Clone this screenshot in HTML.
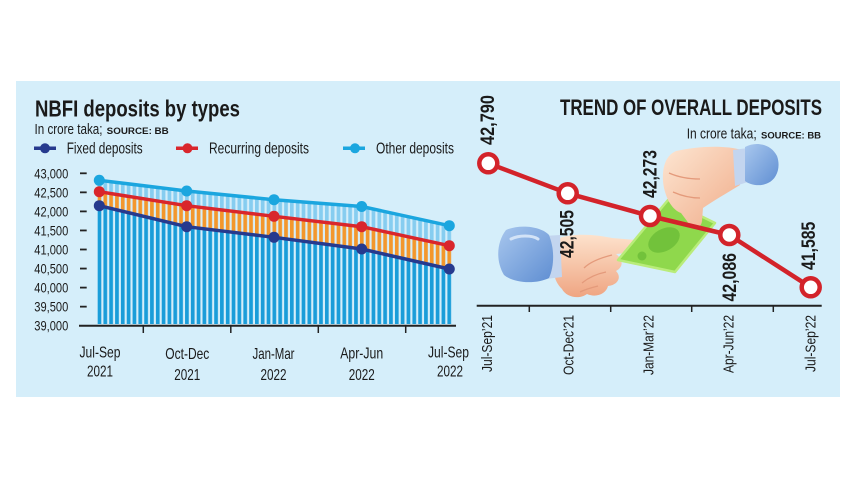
<!DOCTYPE html>
<html><head><meta charset="utf-8"><style>
html,body{margin:0;padding:0;background:#fff;}
svg{display:block;}
text{font-family:"Liberation Sans Narrow","Liberation Sans",sans-serif;fill:#1a1a1a;}
.b{font-weight:bold;}
</style></head><body>
<svg width="857" height="482" viewBox="0 0 857 482" xmlns="http://www.w3.org/2000/svg">
<defs>
<pattern id="pb" patternUnits="userSpaceOnUse" x="97.6" y="0" width="5.83" height="482"><rect x="0" y="0" width="3.7" height="482" fill="#1a9dd9"/></pattern>
<pattern id="po" patternUnits="userSpaceOnUse" x="97.6" y="0" width="5.83" height="482"><rect x="0" y="0" width="3.7" height="482" fill="#f3972c"/></pattern>
<pattern id="pl" patternUnits="userSpaceOnUse" x="97.6" y="0" width="5.83" height="482"><rect x="0" y="0" width="3.7" height="482" fill="#86cdf0"/></pattern>
<linearGradient id="skin" x1="0" y1="0" x2="0" y2="1"><stop offset="0" stop-color="#fde2cc"/><stop offset="1" stop-color="#efa582"/></linearGradient>
<linearGradient id="skin2" x1="0" y1="0" x2="1" y2="1"><stop offset="0" stop-color="#fde6d2"/><stop offset="1" stop-color="#f0ab88"/></linearGradient>
<linearGradient id="slv" x1="0" y1="0" x2="1" y2="1"><stop offset="0" stop-color="#a8c7ee"/><stop offset="1" stop-color="#5f8ed2"/></linearGradient>
</defs>
<rect x="0" y="0" width="857" height="482" fill="#ffffff"/>
<rect x="16" y="81" width="824" height="316" fill="#d5eefa"/>

<!-- LEFT CHART -->
<text class="b" x="35" y="116.7" font-size="23" textLength="205" lengthAdjust="spacingAndGlyphs">NBFI deposits by types</text>
<text x="34.5" y="134" font-size="14.5" textLength="68" lengthAdjust="spacingAndGlyphs">In crore taka;</text>
<text class="b" x="106.7" y="134" font-size="9.5" textLength="62" lengthAdjust="spacingAndGlyphs">SOURCE: BB</text>

<!-- legend -->
<line x1="34" y1="148.3" x2="56" y2="148.3" stroke="#263a8e" stroke-width="3.5"/>
<circle cx="45" cy="148.3" r="5" fill="#263a8e"/>
<text x="66.7" y="153.5" font-size="16" textLength="76" lengthAdjust="spacingAndGlyphs">Fixed deposits</text>
<line x1="176" y1="148.3" x2="198" y2="148.3" stroke="#d9262c" stroke-width="3.5"/>
<circle cx="187.5" cy="148.3" r="5" fill="#d9262c"/>
<text x="209" y="153.5" font-size="16" textLength="100" lengthAdjust="spacingAndGlyphs">Recurring deposits</text>
<line x1="343" y1="148.3" x2="365" y2="148.3" stroke="#1ba6df" stroke-width="3.5"/>
<circle cx="355" cy="148.3" r="5" fill="#1ba6df"/>
<text x="376" y="153.5" font-size="16" textLength="78" lengthAdjust="spacingAndGlyphs">Other deposits</text>

<!-- y labels -->
<g font-size="14.2" text-anchor="end">
<text x="68.3" y="178.3" textLength="34" lengthAdjust="spacingAndGlyphs">43,000</text>
<text x="68.3" y="197.4" textLength="34" lengthAdjust="spacingAndGlyphs">42,500</text>
<text x="68.3" y="216.4" textLength="34" lengthAdjust="spacingAndGlyphs">42,000</text>
<text x="68.3" y="235.5" textLength="34" lengthAdjust="spacingAndGlyphs">41,500</text>
<text x="68.3" y="254.5" textLength="34" lengthAdjust="spacingAndGlyphs">41,000</text>
<text x="68.3" y="273.6" textLength="34" lengthAdjust="spacingAndGlyphs">40,500</text>
<text x="68.3" y="292.6" textLength="34" lengthAdjust="spacingAndGlyphs">40,000</text>
<text x="68.3" y="311.7" textLength="34" lengthAdjust="spacingAndGlyphs">39,500</text>
<text x="68.3" y="330.7" textLength="34" lengthAdjust="spacingAndGlyphs">39,000</text>
</g>
<g stroke="#222" stroke-width="1.8">
<line x1="80" y1="173.3" x2="86.7" y2="173.3"/>
<line x1="80" y1="192.35" x2="86.7" y2="192.35"/>
<line x1="80" y1="211.4" x2="86.7" y2="211.4"/>
<line x1="80" y1="230.45" x2="86.7" y2="230.45"/>
<line x1="80" y1="249.5" x2="86.7" y2="249.5"/>
<line x1="80" y1="268.55" x2="86.7" y2="268.55"/>
<line x1="80" y1="287.6" x2="86.7" y2="287.6"/>
<line x1="80" y1="306.65" x2="86.7" y2="306.65"/>
</g>

<!-- striped areas -->
<polygon fill="url(#pb)" points="97.6,324 97.6,205.3 99.3,205.7 186.7,226.7 274,237.3 361.7,249 449.3,269 451.5,269.5 451.5,324"/>
<polygon fill="url(#po)" points="97.6,191.5 99.3,191.7 186.7,205.7 274,216.3 361.7,226.7 449.3,245.7 451.5,246.2 451.5,269.5 449.3,269 361.7,249 274,237.3 186.7,226.7 99.3,205.7 97.6,205.3"/>
<polygon fill="url(#pl)" points="97.6,180.1 99.3,180.3 186.7,191 274,199.7 361.7,206.5 449.3,225.7 451.5,226.2 451.5,246.2 449.3,245.7 361.7,226.7 274,216.3 186.7,205.7 99.3,191.7 97.6,191.5"/>

<!-- axis -->
<line x1="79" y1="325.7" x2="456" y2="325.7" stroke="#222" stroke-width="2"/>
<g stroke="#222" stroke-width="1.5">
<line x1="143.3" y1="325.7" x2="143.3" y2="333"/>
<line x1="230.8" y1="325.7" x2="230.8" y2="333"/>
<line x1="318.3" y1="325.7" x2="318.3" y2="333"/>
<line x1="405.7" y1="325.7" x2="405.7" y2="333"/>
</g>

<!-- lines -->
<polyline fill="none" stroke="#1ba6df" stroke-width="3.5" stroke-linejoin="round" points="99.3,180.3 186.7,191 274,199.7 361.7,206.5 449.3,225.7"/>
<polyline fill="none" stroke="#d9262c" stroke-width="3.5" stroke-linejoin="round" points="99.3,191.7 186.7,205.7 274,216.3 361.7,226.7 449.3,245.7"/>
<polyline fill="none" stroke="#263a8e" stroke-width="3.5" stroke-linejoin="round" points="99.3,205.7 186.7,226.7 274,237.3 361.7,249 449.3,269"/>
<g fill="#1ba6df">
<circle cx="99.3" cy="180.3" r="5.5"/><circle cx="186.7" cy="191" r="5.5"/><circle cx="274" cy="199.7" r="5.5"/><circle cx="361.7" cy="206.5" r="5.5"/><circle cx="449.3" cy="225.7" r="5.5"/>
</g>
<g fill="#d9262c">
<circle cx="99.3" cy="191.7" r="5.5"/><circle cx="186.7" cy="205.7" r="5.5"/><circle cx="274" cy="216.3" r="5.5"/><circle cx="361.7" cy="226.7" r="5.5"/><circle cx="449.3" cy="245.7" r="5.5"/>
</g>
<g fill="#263a8e">
<circle cx="99.3" cy="205.7" r="5.5"/><circle cx="186.7" cy="226.7" r="5.5"/><circle cx="274" cy="237.3" r="5.5"/><circle cx="361.7" cy="249" r="5.5"/><circle cx="449.3" cy="269" r="5.5"/>
</g>

<!-- x labels left -->
<g font-size="16" text-anchor="middle">
<text x="100" y="357.5" textLength="41" lengthAdjust="spacingAndGlyphs">Jul-Sep</text>
<text x="100" y="376.5" textLength="26" lengthAdjust="spacingAndGlyphs">2021</text>
<text x="187.3" y="359" textLength="44" lengthAdjust="spacingAndGlyphs">Oct-Dec</text>
<text x="187.3" y="380" textLength="26" lengthAdjust="spacingAndGlyphs">2021</text>
<text x="273.5" y="359" textLength="42" lengthAdjust="spacingAndGlyphs">Jan-Mar</text>
<text x="273.5" y="380" textLength="26" lengthAdjust="spacingAndGlyphs">2022</text>
<text x="361.7" y="358.5" textLength="43" lengthAdjust="spacingAndGlyphs">Apr-Jun</text>
<text x="361.7" y="380" textLength="26" lengthAdjust="spacingAndGlyphs">2022</text>
<text x="448.5" y="357.5" textLength="41" lengthAdjust="spacingAndGlyphs">Jul-Sep</text>
<text x="450" y="376.7" textLength="26" lengthAdjust="spacingAndGlyphs">2022</text>
</g>

<!-- RIGHT CHART -->
<text class="b" x="560" y="115" font-size="22" textLength="262" lengthAdjust="spacingAndGlyphs">TREND OF OVERALL DEPOSITS</text>
<text x="686.7" y="138.3" font-size="14.5" textLength="70" lengthAdjust="spacingAndGlyphs">In crore taka;</text>
<text class="b" x="761" y="138.3" font-size="9.5" textLength="60" lengthAdjust="spacingAndGlyphs">SOURCE: BB</text>

<!-- illustration: left hand -->
<path d="M556,239 C575,232 598,235 612,238 L636,240 C644,241 645,250 637,252 L616,254 C623,259 624,267 616,271 C622,277 618,285 608,286 C606,294 596,298 587,294 C579,300 566,297 562,289 C556,283 553,276 555,268 Z" fill="url(#skin)"/>
<path d="M612,255 C600,258 590,262 584,268 M606,272 C596,274 588,278 582,283 M598,286 C590,288 584,290 580,292" fill="none" stroke="#e49a7b" stroke-width="1.3"/>
<path d="M544,236 L560,235 L562,277 L546,279 Z" fill="#c3d5ef"/>
<path d="M506,230 C519,224 541,226 549,235 C555,250 554,267 549,278 C537,284 515,284 504,275 C496,262 496,243 506,230 Z" fill="url(#slv)"/>
<path d="M511,239 C519,235 532,235 538,239" fill="none" stroke="#d3e3f7" stroke-width="3" stroke-linecap="round"/>

<!-- banknote -->
<polygon points="668,200 715,223 675,272 618,260" fill="#8fd84c" stroke="#b9ec7a" stroke-width="2.5" stroke-linejoin="round"/>
<ellipse cx="664" cy="240" rx="17" ry="11" transform="rotate(-30 664 240)" fill="#72c23b"/>
<circle cx="642" cy="256" r="4.5" fill="#72c23b"/>
<circle cx="692" cy="214" r="3.5" fill="#72c23b"/>

<!-- illustration: top hand -->
<path d="M742,150 C725,145 698,146 676,151 C664,156 661,172 664,188 C667,201 673,210 681,213 L687,221 C691,229 701,230 702,221 L703,208 C713,201 727,193 740,185 Z" fill="url(#skin2)"/>
<path d="M673,192 C682,196 691,198 700,198 M669,173 C678,177 689,179 700,179" fill="none" stroke="#e49a7b" stroke-width="1.3"/>
<path d="M733,150 L748,148 L748,182 L735,186 Z" fill="#c3d5ef"/>
<path d="M745,147 C756,141 771,144 777,156 C781,167 777,179 768,183 C760,187 750,185 745,181 Z" fill="url(#slv)"/>

<!-- axis right -->
<line x1="476.7" y1="305.7" x2="821.7" y2="305.7" stroke="#222" stroke-width="2"/>
<g stroke="#222" stroke-width="1.5">
<line x1="529.3" y1="305.7" x2="529.3" y2="312"/>
<line x1="610.7" y1="305.7" x2="610.7" y2="312"/>
<line x1="691.7" y1="305.7" x2="691.7" y2="312"/>
<line x1="773.3" y1="305.7" x2="773.3" y2="312"/>
</g>

<!-- red line -->
<polyline fill="none" stroke="#d3232a" stroke-width="4.5" stroke-linejoin="round" points="488.3,163.3 567.7,193.3 650,216 729.3,235 810.7,287.3"/>
<g fill="#ffffff" stroke="#d3232a" stroke-width="4.5">
<circle cx="488.3" cy="163.3" r="9"/>
<circle cx="567.7" cy="193.3" r="9"/>
<circle cx="650" cy="216" r="9"/>
<circle cx="729.3" cy="235" r="9"/>
<circle cx="810.7" cy="287.3" r="9"/>
</g>

<!-- value labels -->
<g class="b" font-size="19" font-weight="bold">
<text transform="translate(494,145) rotate(-90)" textLength="50" lengthAdjust="spacingAndGlyphs">42,790</text>
<text transform="translate(573.5,258) rotate(-90)" textLength="48" lengthAdjust="spacingAndGlyphs">42,505</text>
<text transform="translate(656.5,198) rotate(-90)" textLength="48" lengthAdjust="spacingAndGlyphs">42,273</text>
<text transform="translate(736,301.5) rotate(-90)" textLength="48.5" lengthAdjust="spacingAndGlyphs">42,086</text>
<text transform="translate(815,270) rotate(-90)" textLength="48.3" lengthAdjust="spacingAndGlyphs">41,585</text>
</g>

<!-- x labels right -->
<g font-size="15" text-anchor="end">
<text transform="translate(492,315) rotate(-90)" textLength="57" lengthAdjust="spacingAndGlyphs">Jul-Sep’21</text>
<text transform="translate(573.5,315) rotate(-90)" textLength="60" lengthAdjust="spacingAndGlyphs">Oct-Dec’21</text>
<text transform="translate(653.5,315) rotate(-90)" textLength="60" lengthAdjust="spacingAndGlyphs">Jan-Mar’22</text>
<text transform="translate(733.5,315) rotate(-90)" textLength="58" lengthAdjust="spacingAndGlyphs">Apr-Jun’22</text>
<text transform="translate(815.5,315) rotate(-90)" textLength="57" lengthAdjust="spacingAndGlyphs">Jul-Sep’22</text>
</g>
</svg>
</body></html>
